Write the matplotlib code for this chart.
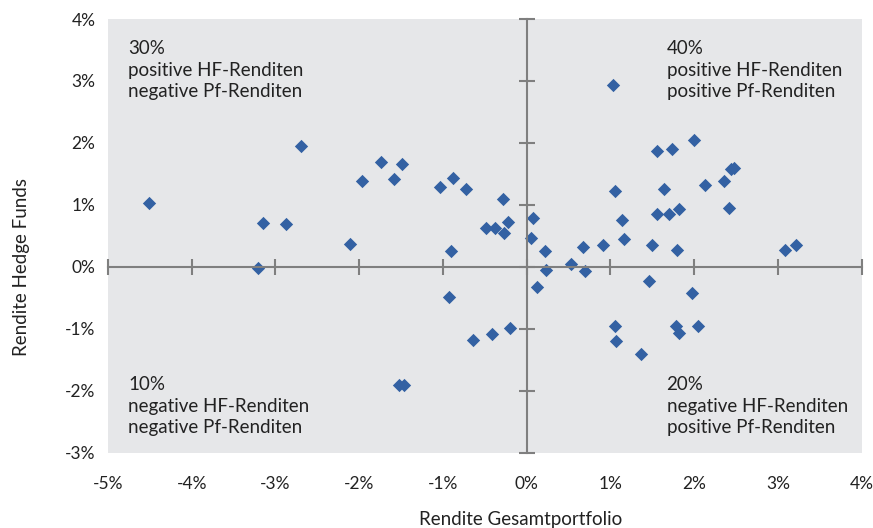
import matplotlib
matplotlib.use("Agg")
import matplotlib.pyplot as plt
from matplotlib.ticker import FuncFormatter

plt.rcParams['font.family'] = ['Lato', 'DejaVu Sans']

# Data (percent)
pf_returns = [-4.51, -3.21, -3.15, -2.88, -2.69, -2.11, -1.97, -1.74, -1.58, -1.49,
              -1.53, -1.47, -1.03, -0.885, -0.90, -0.93, -0.73, -0.64, -0.49, -0.41,
              -0.38, -0.28, -0.275, -0.22, -0.195, 0.056, 0.08, 0.12, 0.215, 0.23,
              0.53, 0.675, 0.70, 0.91, 1.03, 1.06, 1.05, 1.07, 1.14, 1.16,
              1.36, 1.46, 1.49, 1.55, 1.55, 1.64, 1.70, 1.73, 1.78, 1.80,
              1.82, 1.82, 1.97, 2.00, 2.05, 2.13, 2.36, 2.42, 2.44, 2.47,
              3.09, 3.21]
hf_returns = [1.03, -0.02, 0.71, 0.69, 1.95, 0.37, 1.38, 1.69, 1.42, 1.66,
              -1.90, -1.90, 1.29, 1.44, 0.25, -0.49, 1.26, -1.18, 0.63, -1.08,
              0.63, 1.09, 0.55, 0.73, -0.99, 0.47, 0.79, -0.33, 0.25, -0.05,
              0.04, 0.32, -0.06, 0.35, 2.94, 1.22, -0.96, -1.20, 0.75, 0.45,
              -1.40, -0.23, 0.35, 1.87, 0.85, 1.25, 0.85, 1.90, -0.95, 0.27,
              0.93, -1.07, -0.42, 2.05, -0.96, 1.32, 1.39, 0.95, 1.58, 1.59,
              0.27, 0.35]

x_ticks = [-5, -4, -3, -2, -1, 0, 1, 2, 3, 4]
y_ticks = [-3, -2, -1, 0, 1, 2, 3, 4]

quadrant_texts = [
    (-4.76, 3.66, "30%\npositive HF-Renditen\nnegative Pf-Renditen"),
    (1.67, 3.66, "40%\npositive HF-Renditen\npositive Pf-Renditen"),
    (-4.76, -1.77, "10%\nnegative HF-Renditen\nnegative Pf-Renditen"),
    (1.67, -1.77, "20%\nnegative HF-Renditen\npositive Pf-Renditen"),
]

x_label = "Rendite Gesamtportfolio"
y_label = "Rendite Hedge Funds"

bg = '#e6e7e9'
axis_col = '#7f7f7f'
marker_col = '#3361a3'
text_col = '#222222'

fig = plt.figure(figsize=(8.73, 5.28), dpi=100)
pos = [108/873, 1 - 452.7/528, (861.7-108)/873, (452.7-19)/528]

ax = fig.add_axes(pos)
ax.set_facecolor(bg)
ax.set_xlim(-5, 4)
ax.set_ylim(-3, 4)
for s in ax.spines.values():
    s.set_visible(False)
ax.set_xticks(x_ticks)
ax.set_yticks(y_ticks)
fmt = FuncFormatter(lambda v, p: f"{int(round(v))}%")
ax.xaxis.set_major_formatter(fmt)
ax.yaxis.set_major_formatter(fmt)
ax.tick_params(axis='both', length=0, labelsize=12.5, colors=text_col)
ax.tick_params(axis='x', pad=17)
ax.tick_params(axis='y', pad=9)
ax.set_xlabel(x_label, fontsize=13.5, color=text_col)
ax.set_ylabel(y_label, fontsize=13.5, color=text_col)
ax.xaxis.set_label_coords(0.547, -0.135)
ax.yaxis.set_label_coords(-0.104, 0.4286)

ax.scatter(pf_returns, hf_returns, marker='D', s=46, color=marker_col,
           linewidths=0, zorder=5)

for xt, yt, txt in quadrant_texts:
    ax.text(xt, yt, txt, fontsize=13.5, color=text_col, va='top', ha='left',
            linespacing=1.32, zorder=6)

# overlay axes for the centre cross with tick marks
ax2 = fig.add_axes(pos, sharex=ax, sharey=ax)
ax2.patch.set_visible(False)
ax2.spines['top'].set_visible(False)
ax2.spines['right'].set_visible(False)
ax2.spines['left'].set_position(('data', 0))
ax2.spines['bottom'].set_position(('data', 0))
for k in ('left', 'bottom'):
    ax2.spines[k].set_color(axis_col)
    ax2.spines[k].set_linewidth(1.5)
ax2.tick_params(axis='both', direction='inout', length=11, width=1.5,
                color=axis_col, labelleft=False, labelbottom=False)

fig.savefig("out.png", dpi=100)
